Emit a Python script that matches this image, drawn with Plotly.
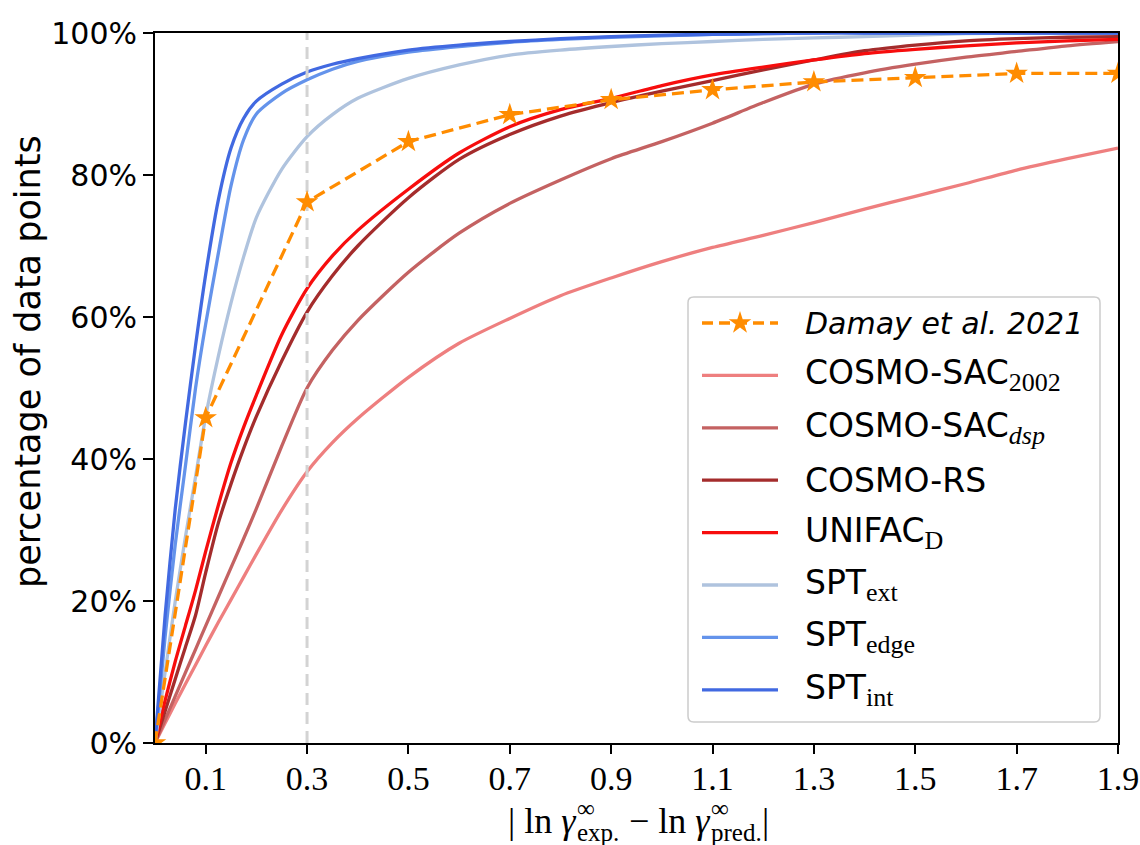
import plotly.graph_objects as go

# |ln gamma_exp - ln gamma_pred| thresholds for the cumulative curves
x_grid = [0, 0.02, 0.04, 0.06, 0.08, 0.1, 0.125, 0.15, 0.175, 0.2, 0.25, 0.3, 0.35, 0.4,
          0.5, 0.6, 0.7, 0.8, 0.9, 1.0, 1.1, 1.2, 1.3, 1.4, 1.5, 1.6, 1.7, 1.8, 1.9]

# cumulative percentage of data points below each threshold
cosmo_sac_2002 = [0, 2.8, 5.6, 8.3, 11, 13.7, 17, 20.2, 23.4, 26.6, 32.8, 38.2, 42.3, 45.7,
                  51.5, 56.3, 59.8, 63, 65.5, 67.8, 69.8, 71.5, 73.3, 75.2, 77, 78.8, 80.7, 82.3, 83.8]
cosmo_sac_dsp = [0, 3.3, 6.6, 9.9, 13.2, 16.5, 20.6, 24.7, 28.8, 33, 41.8, 50, 55.3, 59.5,
                 66.3, 71.8, 76, 79.3, 82.3, 84.7, 87.3, 90.2, 92.8, 94.4, 95.6, 96.6, 97.4, 98.2, 98.8]
cosmo_rs = [0, 4.5, 9, 13.5, 18, 24, 31, 36.5, 41.5, 46, 53.8, 60.7, 65.8, 70,
            76.8, 82.2, 85.7, 88.3, 90.2, 91.8, 93.3, 94.8, 96.2, 97.5, 98.3, 98.9, 99.2, 99.4, 99.5]
unifac_d = [0, 6, 11.5, 16.5, 21.5, 27, 33.5, 39.5, 44.5, 49, 57.5, 64, 68.6, 72.2,
            78, 83.1, 86.8, 89.2, 90.8, 92.6, 94.1, 95.2, 96.2, 97.1, 97.7, 98.2, 98.6, 98.9, 99.1]
spt_ext = [0, 10, 20, 29, 37.5, 46, 54.5, 62, 68.5, 74, 80.8, 85.4, 88.5, 90.8,
           93.6, 95.5, 96.9, 97.6, 98.1, 98.5, 98.8, 99.1, 99.3, 99.5, 99.7, 99.9, 100, 100, 100]
spt_edge = [0, 15, 28, 39, 50, 59, 69, 78.5, 85, 88.6, 91.5, 93.4, 94.9, 96.0,
            97.3, 98.1, 98.7, 99.1, 99.4, 99.6, 99.8, 99.9, 100, 100, 100, 100, 100, 100, 100]
spt_int = [0, 18, 33, 45, 56, 66, 76.5, 83.8, 88, 90.4, 92.8, 94.5, 95.6, 96.4,
           97.6, 98.3, 98.8, 99.2, 99.5, 99.7, 99.8, 99.9, 100, 100, 100, 100, 100, 100, 100]

# literature reference (discrete thresholds)
damay_x = [0, 0.1, 0.3, 0.5, 0.7, 0.9, 1.1, 1.3, 1.5, 1.7, 1.9, 2.1]
damay_y = [0, 45.8, 76.2, 84.7, 88.5, 90.6, 92.0, 93.1, 93.7, 94.3, 94.3, 94.4]

x_ticks = [0.1, 0.3, 0.5, 0.7, 0.9, 1.1, 1.3, 1.5, 1.7, 1.9]
y_ticks = [0, 20, 40, 60, 80, 100]
marked_threshold = 0.3

SERIF = "Liberation Serif"
SANS = "DejaVu Sans"

# plot-area geometry in pixels (figure 1140 x 845)
PL, PR, PT, PB = 155, 1118, 33, 743


def px_x(px):
    return (px - PL) / (PR - PL)


def px_y(py):
    return (PB - py) / (PB - PT)


def sub(txt, italic=False):
    inner = f"<i>{txt}</i>" if italic else txt
    return f"<sub><span style='font-family:{SERIF};font-size:26px'>{inner}</span></sub>"


series = [
    ("COSMO-SAC" + sub("2002"), cosmo_sac_2002, "#EE7F7F"),
    ("COSMO-SAC" + sub("dsp", True), cosmo_sac_dsp, "#C46262"),
    ("COSMO-RS", cosmo_rs, "#A42C2C"),
    ("UNIFAC" + sub("D"), unifac_d, "#F70D0D"),
    ("SPT" + sub("ext"), spt_ext, "#AFC3DE"),
    ("SPT" + sub("edge"), spt_edge, "#6493EB"),
    ("SPT" + sub("int"), spt_int, "#4169E1"),
]
orange = "#FF8C00"

fig = go.Figure()
for name, ys, col in series:
    fig.add_trace(go.Scatter(x=x_grid, y=ys, mode="lines", name=name,
                             line=dict(color=col, width=3.3, shape="spline", smoothing=0.7),
                             showlegend=False))

fig.add_trace(go.Scatter(x=[marked_threshold, marked_threshold], y=[0, 100], mode="lines",
                         line=dict(color="#D3D3D3", width=3, dash="12px,7px"),
                         showlegend=False, hoverinfo="skip"))

fig.add_trace(go.Scatter(x=damay_x, y=damay_y, mode="lines+markers",
                         line=dict(color=orange, width=3.3, dash="12px,6px"),
                         marker=dict(symbol="star", size=17, color=orange, line=dict(width=0)),
                         showlegend=False))

# ---- legend drawn on an overlay axis spanning the plot area in [0, 1] units ----
leg_left, leg_right, leg_top, leg_bottom = px_x(688), px_x(1100), px_y(297), px_y(722)
line_x0, line_x1, text_x = px_x(702), px_x(778), px_x(803)
row_px0, row_px_step = 323, 52.4

legend_entries = [("<i>Damay et al. 2021</i>", orange, True, 30)] + \
                 [(n, c, False, 33) for n, _, c in series]

rx, ry = 0.006, 0.008
box = (f"M{leg_left + rx},{leg_bottom} L{leg_right - rx},{leg_bottom} "
       f"Q{leg_right},{leg_bottom} {leg_right},{leg_bottom + ry} "
       f"L{leg_right},{leg_top - ry} Q{leg_right},{leg_top} {leg_right - rx},{leg_top} "
       f"L{leg_left + rx},{leg_top} Q{leg_left},{leg_top} {leg_left},{leg_top - ry} "
       f"L{leg_left},{leg_bottom + ry} Q{leg_left},{leg_bottom} {leg_left + rx},{leg_bottom} Z")
fig.add_shape(type="path", path=box, xref="paper", yref="paper", layer="below",
              line=dict(color="#CCCCCC", width=1.5), fillcolor="white")

annotations = []
for i, (label, col, is_ref, fsize) in enumerate(legend_entries):
    yy = px_y(row_px0 + i * row_px_step)
    if is_ref:
        fig.add_trace(go.Scatter(x=[line_x0, line_x1], y=[yy, yy], xaxis="x2", yaxis="y2",
                                 mode="lines", line=dict(color=col, width=3.3, dash="11px,6px"),
                                 showlegend=False, hoverinfo="skip"))
        fig.add_trace(go.Scatter(x=[(line_x0 + line_x1) / 2], y=[yy], xaxis="x2", yaxis="y2",
                                 mode="markers",
                                 marker=dict(symbol="star", size=17, color=col, line=dict(width=0)),
                                 showlegend=False, hoverinfo="skip"))
    else:
        fig.add_trace(go.Scatter(x=[line_x0, line_x1], y=[yy, yy], xaxis="x2", yaxis="y2",
                                 mode="lines", line=dict(color=col, width=3.3),
                                 showlegend=False, hoverinfo="skip"))
    annotations.append(dict(x=text_x, y=yy, xref="paper", yref="paper", text=label,
                            showarrow=False, xanchor="left", yanchor="middle",
                            font=dict(family=SANS, size=fsize, color="black")))

# y-axis title
annotations.append(dict(x=px_x(28), y=px_y(362), xref="paper", yref="paper",
                        text="percentage of data points", textangle=-90, showarrow=False,
                        xanchor="center", yanchor="middle",
                        font=dict(family=SANS, size=35, color="black")))

# x-axis title, with stacked super/subscripts built from pieces
MAIN, SCRIPT = 36, 25
em = {"|": 0.2, " ": 0.25, "l": 0.278, "n": 0.5, "γ": 0.42, "−": 0.564, "∞": 0.713,
      "e": 0.444, "x": 0.5, "p": 0.5, ".": 0.25, "r": 0.333, "d": 0.5}


def width(txt, size):
    return sum(em[c] for c in txt) * size


pieces = [("| ln ", "γ", "∞", "exp."), (" − ln ", "γ", "∞", "pred.")]
total = 0
for pre, g, sup_t, sub_t in pieces:
    total += width(pre, MAIN) + width(g, MAIN) + max(width(sup_t, SCRIPT), width(sub_t, SCRIPT))
total += width("|", MAIN)
cx = (PL + PR) / 2 - total / 2
base_y = 821
for pre, g, sup_t, sub_t in pieces:
    annotations.append(dict(x=px_x(cx), y=px_y(base_y), xref="paper", yref="paper",
                            text=pre + f"<i>{g}</i>", showarrow=False, xanchor="left",
                            yanchor="middle", borderpad=0,
                            font=dict(family=SERIF, size=MAIN, color="black")))
    cx += width(pre, MAIN) + width(g, MAIN) + 1
    annotations.append(dict(x=px_x(cx), y=px_y(base_y - 13), xref="paper", yref="paper",
                            text=sup_t, showarrow=False, xanchor="left", yanchor="middle",
                            borderpad=0, font=dict(family=SERIF, size=SCRIPT, color="black")))
    annotations.append(dict(x=px_x(cx), y=px_y(base_y + 11), xref="paper", yref="paper",
                            text=sub_t, showarrow=False, xanchor="left", yanchor="middle",
                            borderpad=0, font=dict(family=SERIF, size=SCRIPT, color="black")))
    cx += max(width(sup_t, SCRIPT), width(sub_t, SCRIPT))
annotations.append(dict(x=px_x(cx), y=px_y(base_y), xref="paper", yref="paper",
                        text="|", showarrow=False, xanchor="left", yanchor="middle",
                        borderpad=0, font=dict(family=SERIF, size=MAIN, color="black")))

fig.update_layout(
    width=1140, height=845,
    margin=dict(l=PL, r=1140 - PR, t=PT, b=845 - PB),
    paper_bgcolor="white", plot_bgcolor="white",
    showlegend=False,
    annotations=annotations,
    xaxis=dict(range=[0, 1.9], tickvals=x_ticks, ticktext=[f"{v:.1f}" for v in x_ticks],
               showgrid=False, zeroline=False, showline=True, mirror=True, automargin=False,
               linecolor="black", linewidth=2, ticks="outside", ticklen=9, tickwidth=2,
               ticklabelstandoff=-5,
               tickcolor="black", tickfont=dict(family=SERIF, size=34, color="black")),
    yaxis=dict(range=[0, 100], tickvals=y_ticks, ticktext=[f"{v}%" for v in y_ticks],
               showgrid=False, zeroline=False, showline=True, mirror=True, automargin=False,
               linecolor="black", linewidth=2, ticks="outside", ticklen=10, tickwidth=2,
               tickcolor="black", tickfont=dict(family=SANS, size=30, color="black")),
    xaxis2=dict(overlaying="x", range=[0, 1], visible=False, fixedrange=True),
    yaxis2=dict(overlaying="y", range=[0, 1], visible=False, fixedrange=True),
)

fig.write_html("out.html")
